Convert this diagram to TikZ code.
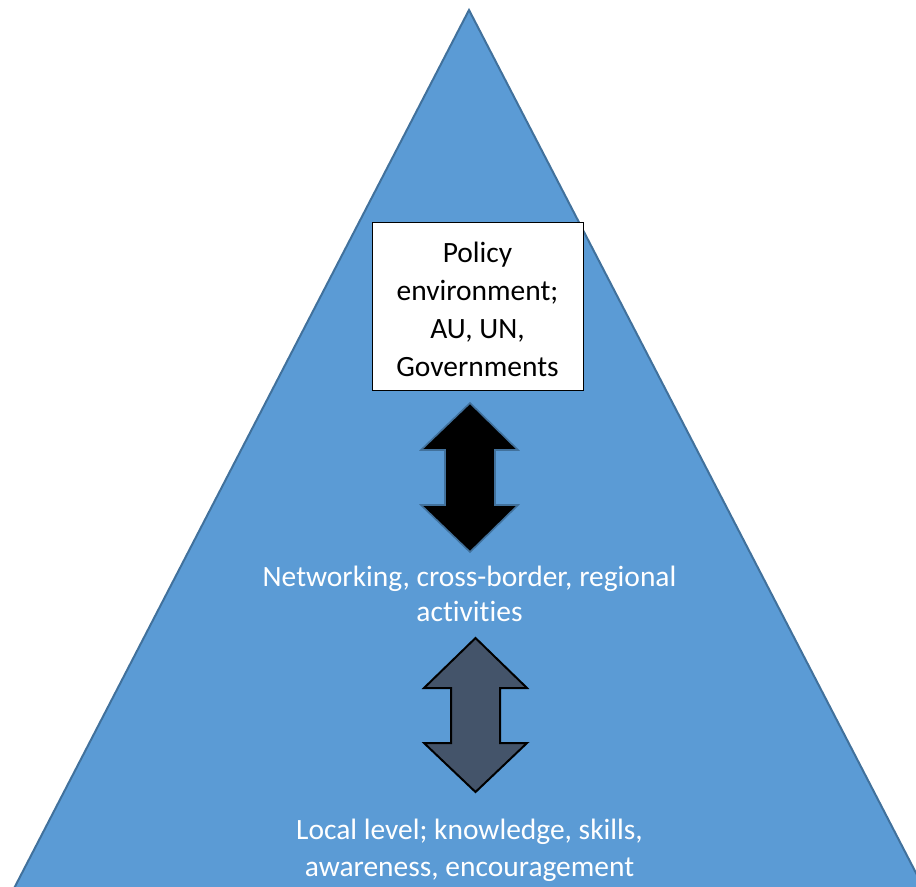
\documentclass[tikz,border=0pt]{standalone}
\usepackage{fontspec}
\setmainfont{Carlito}[Ligatures={NoCommon}]
\definecolor{triblue}{HTML}{5B9BD5}
\definecolor{triedge}{HTML}{41719C}
\definecolor{slate}{HTML}{44546A}
\tikzset{
  lbl/.style={align=center, inner sep=0pt, font=\fontsize{22.1}{27}\selectfont},
  arrowblack/.style={fill=black, draw=triedge, line width=1.2pt, line join=miter},
  arrowgrey/.style={fill=slate, draw=black, line width=1.5pt, line join=miter},
}
\begin{document}
\begin{tikzpicture}[x=0.75pt,y=-0.75pt]
\useasboundingbox (0,0) rectangle (916,886);
\begin{scope}
\clip (0,0) rectangle (916,886);
\coordinate (apex) at (469,10);
\coordinate (bl) at (8,900);
\coordinate (br) at (930,900);
\draw[fill=triblue, draw=triedge, line width=1.5pt, line join=miter] (apex) -- (br) -- (bl) -- cycle;
\end{scope}

\node[draw=black, fill=white, line width=0.75pt, minimum width=211*0.75pt, minimum height=168*0.75pt,
  inner sep=0pt] (policy) at (477.5,306) {};
\node[lbl, font=\fontsize{22.1}{28.5}\selectfont, text=black] (policytext) at (477.5,309)
  {Policy\\environment;\\AU, UN,\\Governments};

% black double arrow
\draw[arrowblack] (470,403) -- (518,450) -- (495,450) -- (495,505) -- (518,505) -- (470,552)
  -- (421,505) -- (445,505) -- (445,450) -- (421,450) -- cycle;

\node[lbl, text=white, font=\fontsize{22.1}{26.25}\selectfont] (network) at (469.5,594)
  {Networking, cross-border, regional\\activities};

% grey double arrow
\draw[arrowgrey] (475.5,638) -- (527,688) -- (500,688) -- (500,743) -- (527,743) -- (475.5,792)
  -- (424,743) -- (451,743) -- (451,688) -- (424,688) -- cycle;

\node[lbl, text=white, font=\fontsize{22.1}{27.75}\selectfont] (local) at (469.5,850)
  {Local level; knowledge, skills,\\awareness, encouragement};
\end{tikzpicture}
\end{document}
